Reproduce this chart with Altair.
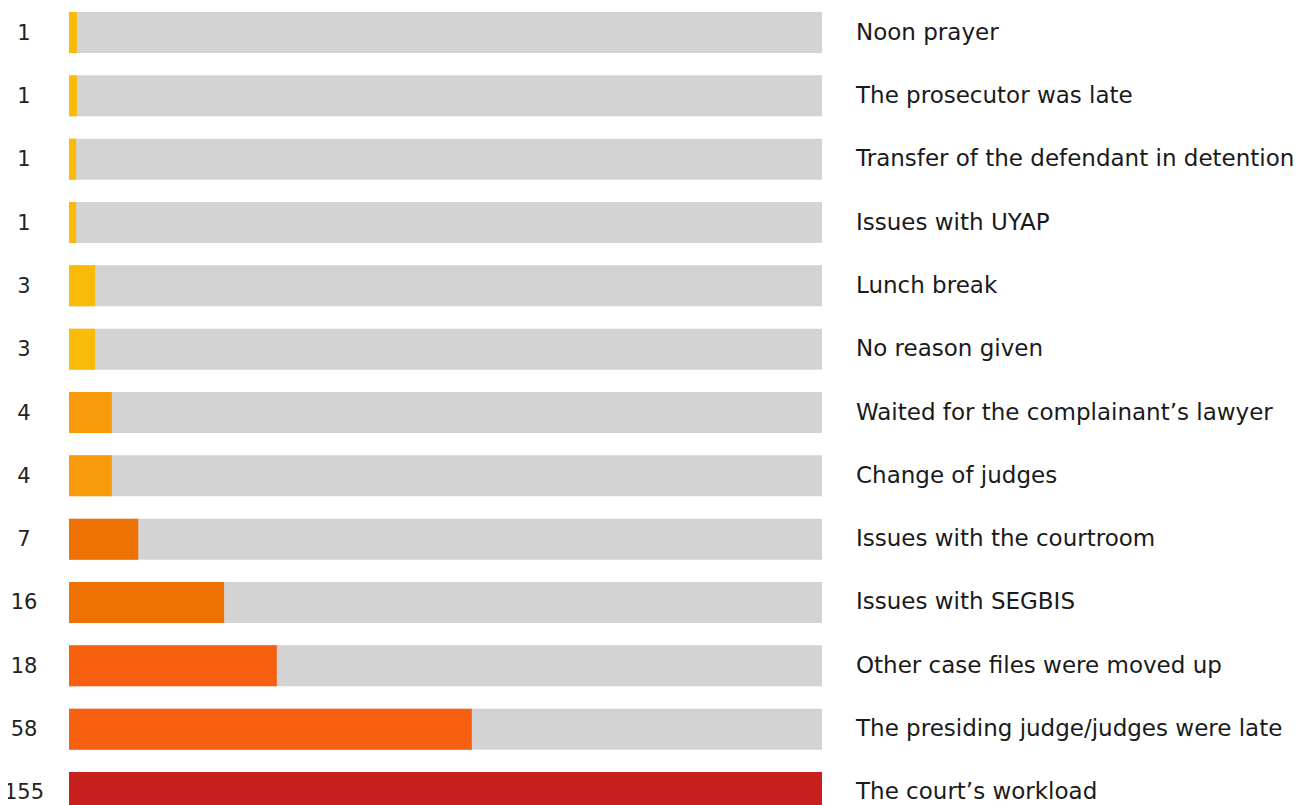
import altair as alt
import pandas as pd

reasons = [
    "Noon prayer",
    "The prosecutor was late",
    "Transfer of the defendant in detention",
    "Issues with UYAP",
    "Lunch break",
    "No reason given",
    "Waited for the complainant’s lawyer",
    "Change of judges",
    "Issues with the courtroom",
    "Issues with SEGBIS",
    "Other case files were moved up",
    "The presiding judge/judges were late",
    "The court’s workload",
]
counts = [1, 1, 1, 1, 3, 3, 4, 4, 7, 16, 18, 58, 155]
# bar length as share of the longest bar (percent)
bar_share = [1.05, 1.05, 0.95, 0.95, 3.45, 3.45, 5.7, 5.7, 9.2, 20.6, 27.6, 53.5, 100]
bar_colors = ["#f9bb07"] * 6 + ["#f99a0a"] * 2 + ["#ee7203"] * 2 + ["#f76010"] * 2 + ["#c71f1e"]

df = pd.DataFrame({"reason": reasons, "count": counts, "share": bar_share})

W = 753
H = 801
FONT = "DejaVu Sans"

y = alt.Y("reason:N", sort=reasons, axis=None,
          scale=alt.Scale(paddingInner=0.3526, paddingOuter=0))
xs = alt.Scale(domain=[0, 100], nice=False, zero=True)

base = alt.Chart(df)

bg = base.mark_bar(color="#d3d3d3").encode(
    y=y, x=alt.X(datum=100, scale=xs, axis=None)
)
fg = base.mark_bar().encode(
    y=y,
    x=alt.X("share:Q", scale=xs, axis=None),
    color=alt.Color("reason:N", scale=alt.Scale(domain=reasons, range=bar_colors), legend=None),
)
cnt = base.mark_text(align="center", baseline="middle", dy=1, font=FONT,
                     fontSize=21, color="#222222").encode(
    y=y, x=alt.value(-45), text="count:Q"
)
lab = base.mark_text(align="left", baseline="middle", font=FONT,
                     fontSize=23, color="#1a1a1a").encode(
    y=y, x=alt.value(W + 34), text="reason:N"
)

chart = alt.layer(bg, fg, cnt, lab).properties(
    width=W, height=H,
    autosize=alt.AutoSizeParams(type="none"),
    padding={"left": 61, "top": 4, "right": 477, "bottom": 0},
).configure_view(stroke=None)

chart.save("out.html", embed_options={"renderer": "svg", "actions": False})
